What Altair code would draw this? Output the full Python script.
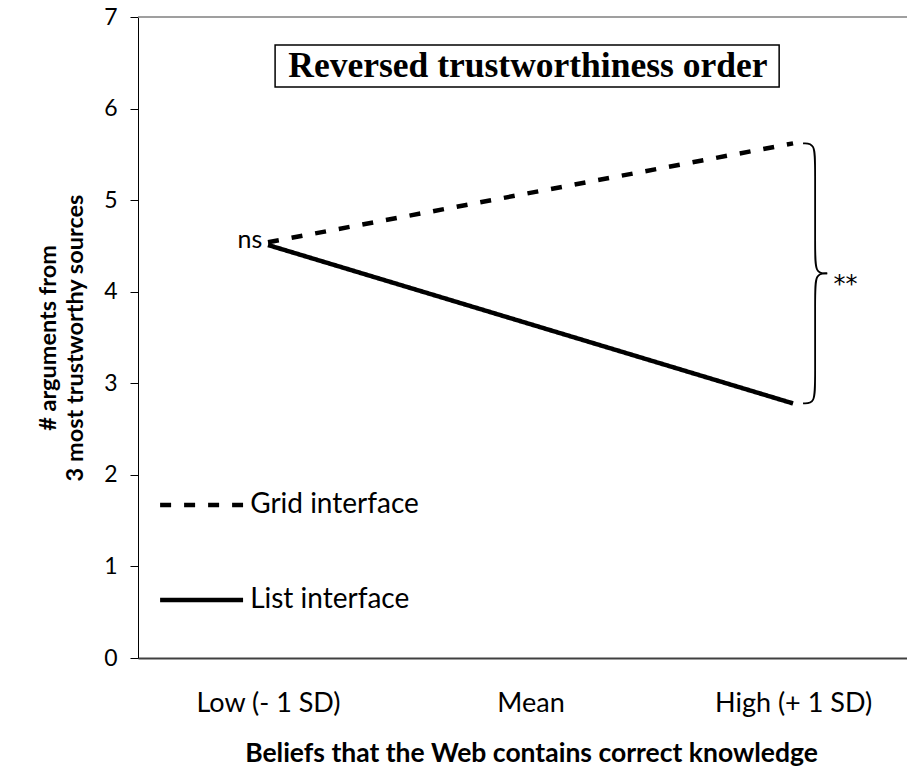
import altair as alt
import pandas as pd

# ---- data ----
categories = ["Low (- 1 SD)", "Mean", "High (+ 1 SD)"]
series = ["Grid interface", "List interface"]
line_levels = [0, 2]                 # indexes into categories (Low, High)
grid_values = [4.54, 5.62]
list_values = [4.51, 2.78]
y_ticks = [0, 1, 2, 3, 4, 5, 6, 7]
chart_title = "Reversed trustworthiness order"
y_title = ["# arguments from", "3 most trustworthy sources"]
x_title = "Beliefs that the Web contains correct knowledge"
low_note = "ns"
high_note = "**"

# ---- layout / style constants ----
PLOT_W, PLOT_H = 769, 641
X_DOMAIN = [-0.4952, 2.434]
SANS = "Lato"
SERIF = "Liberation Serif"
DASH = [11, 13]
LW = 4.5

lines_df = pd.DataFrame(
    [{"x": lv, "y": v, "series": series[0]} for lv, v in zip(line_levels, grid_values)]
    + [{"x": lv, "y": v, "series": series[1]} for lv, v in zip(line_levels, list_values)]
)

xscale = alt.Scale(domain=X_DOMAIN, nice=False, zero=False)
yscale = alt.Scale(domain=[0, 7], nice=False, zero=False)
dash_scale = alt.Scale(domain=series, range=[DASH, [1, 0]])

label_expr = " : ".join(
    f"datum.value == {i} ? '{c}'" for i, c in enumerate(categories[:-1])
) + f" : '{categories[-1]}'"

x_axis = alt.Axis(
    values=list(range(len(categories))), labelExpr=label_expr, ticks=False, tickSize=0,
    grid=False, domainColor="#404040", domainWidth=2, labelFont=SANS, labelFontSize=27,
    labelColor="black", labelPadding=32, title=x_title, titleFont=SANS,
    titleFontSize=26.5, titleFontWeight="bold", titleColor="black", titlePadding=24,
    titleX=393,
)
y_axis = alt.Axis(
    values=y_ticks, format="d", grid=False, domainColor="black", domainWidth=1,
    tickColor="black", tickSize=8, tickWidth=1, labelFont=SANS, labelFontSize=23,
    labelColor="black", labelPadding=13, title=y_title, titleFont=SANS,
    titleFontSize=23.5, titleFontWeight="bold", titleColor="black", titlePadding=16,
    titleLineHeight=27,
)

lines = alt.Chart(lines_df).mark_line(color="black", strokeWidth=LW).encode(
    x=alt.X("x:Q", scale=xscale, axis=x_axis),
    y=alt.Y("y:Q", scale=yscale, axis=y_axis),
    strokeDash=alt.StrokeDash("series:N", scale=dash_scale, legend=None),
    detail="series:N",
)

# top border at y = 7
top_rule = alt.Chart(pd.DataFrame({"y": [7]})).mark_rule(
    color="#7f7f7f", strokeWidth=1.5
).encode(y="y:Q")

# title box
box_df = pd.DataFrame({"x": [0.027], "x2": [1.947], "y": [6.236], "y2": [6.694]})
box = alt.Chart(box_df).mark_rect(fill="white", stroke="black", strokeWidth=1.5).encode(
    x="x:Q", x2="x2", y="y:Q", y2="y2"
)
title_txt = alt.Chart(pd.DataFrame({"x": [0.99], "y": [6.46], "t": [chart_title]})).mark_text(
    font=SERIF, fontSize=35.5, fontWeight="bold", color="black", baseline="middle", align="center"
).encode(x="x:Q", y="y:Q", text="t:N")

# legend drawn inside the plot
leg_df = pd.DataFrame({
    "series": series,
    "x": [-0.411, -0.411],
    "x2": [-0.095, -0.095],
    "y": [1.671, 0.633],
    "tx": [-0.068, -0.068],
})
leg_lines = alt.Chart(leg_df).mark_rule(color="black", strokeWidth=LW).encode(
    x="x:Q", x2="x2", y="y:Q",
    strokeDash=alt.StrokeDash("series:N", scale=dash_scale, legend=None),
)
leg_text = alt.Chart(leg_df).mark_text(
    font=SANS, fontSize=28, color="black", align="left", baseline="middle"
).encode(x="tx:Q", y="y:Q", text="series:N")

# notes
ns_df = pd.DataFrame({"x": [-0.069], "y": [4.57], "t": [low_note]})
ns_txt = alt.Chart(ns_df).mark_text(
    font=SANS, fontSize=25, color="black", align="center", baseline="middle"
).encode(x="x:Q", y="y:Q", text="t:N")
star_df = pd.DataFrame({"x": [2.2], "y": [4.07], "t": [high_note]})
star_txt = alt.Chart(star_df).mark_text(
    font="DejaVu Sans", fontSize=24, color="black", align="center", baseline="middle"
).encode(x="x:Q", y="y:Q", text="t:N")

# brace between the two high-end values
top, bot = grid_values[1], list_values[1]
mid = (top + bot) / 2
x0, x1, xt = 2.038, 2.084, 2.13
upper = [(x0, top), (x1, top), (x1, top - 0.25), (x1, mid + 0.25), (x1, mid), (xt, mid)]
lower = [(xt, mid), (x1, mid), (x1, mid - 0.25), (x1, bot + 0.25), (x1, bot), (x0, bot)]
brace_df = pd.DataFrame(
    [{"x": a, "y": b, "part": "u", "o": i} for i, (a, b) in enumerate(upper)]
    + [{"x": a, "y": b, "part": "l", "o": i} for i, (a, b) in enumerate(lower)]
)
brace = alt.Chart(brace_df).mark_line(
    color="black", strokeWidth=1.8, interpolate="basis"
).encode(x="x:Q", y="y:Q", detail="part:N", order="o:Q")

chart = alt.layer(
    top_rule, box, title_txt, lines, leg_lines, leg_text, ns_txt, star_txt, brace
).properties(
    width=PLOT_W, height=PLOT_H,
    padding={"left": 130, "top": 9, "right": 0, "bottom": 114},
    autosize=alt.AutoSizeParams(type="none"),
    background="white",
).configure_view(stroke=None)

chart.save("out.html", embed_options={"renderer": "svg", "actions": False})
